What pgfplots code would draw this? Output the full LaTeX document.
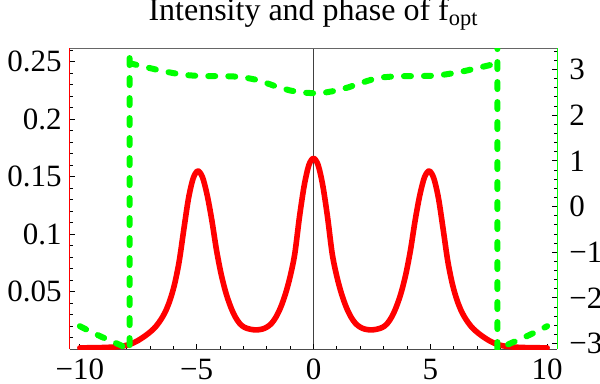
\documentclass[border=0pt]{standalone}
\usepackage{fontspec}
\setmainfont{Liberation Serif}
\usepackage{pgfplots}
\pgfplotsset{compat=1.18}
\definecolor{mgreen}{rgb}{0,1,0}
\begin{document}
\begin{tikzpicture}
\begin{axis}[name=A, scale only axis, width=243.5pt, height=150.5pt,
  xmin=-10.42, xmax=10.42, ymin=0, ymax=0.262,
  axis x line*=bottom, axis y line*=left,
  x axis line style={-, black!70, line width=0.5pt},
  y axis line style={-, red, line width=0.5pt},
  tick align=inside,
  major tick length=2.5pt, minor tick length=1.5pt,
  tick style={black, line width=0.4pt},
  xtick={-10,-5,0,5,10}, xticklabels={−10,−5,0,5,10},
  minor xtick={-9,-8,-7,-6,-4,-3,-2,-1,1,2,3,4,6,7,8,9},
  ytick={0.05,0.1,0.15,0.2,0.25}, yticklabels={0.05,0.1,0.15,0.2,0.25},
  minor ytick={0.01,0.02,0.03,0.04,0.06,0.07,0.08,0.09,0.11,0.12,0.13,0.14,0.16,0.17,0.18,0.19,0.21,0.22,0.23,0.24,0.26},
  ticklabel style={font=\fontsize{15.5}{18}\selectfont},
  xticklabel style={inner sep=0pt, yshift=-4.8pt, anchor=north},
  yticklabel style={inner sep=0pt, xshift=-4pt, anchor=east},
  extra x ticks={0}, extra x tick labels={},
  extra x tick style={grid=major, major grid style={black!75, line width=0.45pt}},
  title={Intensity and phase of f\textsubscript{opt}},
  title style={font=\fontsize{16}{19}\selectfont, anchor=base, at={(0.5,1)}, yshift=8pt},
]
\draw[black!60, line width=0.5pt] (rel axis cs:0,1) -- (rel axis cs:1,1);
\addplot[red, line width=2.8pt, smooth, line join=round, line cap=round] coordinates {
(-10.0,0.0010) (-9.5,0.0011) (-9.0,0.0013) (-8.5,0.0018) (-8.1,0.0028) (-7.8,0.0045)
(-7.5,0.0075) (-7.2,0.0115) (-6.95,0.0155) (-6.75,0.0195) (-6.55,0.0250) (-6.35,0.0320)
(-6.15,0.0420) (-5.95,0.0560) (-5.75,0.0760) (-5.55,0.1040) (-5.35,0.1310) (-5.15,0.1485)
(-4.95,0.1550) (-4.75,0.1495) (-4.55,0.1340) (-4.35,0.1120) (-4.15,0.0860) (-3.95,0.0650)
(-3.75,0.0490) (-3.55,0.0370) (-3.35,0.0280) (-3.15,0.0220) (-2.95,0.0188) (-2.7,0.0172)
(-2.45,0.0166) (-2.2,0.0173) (-2.0,0.0190) (-1.8,0.0222) (-1.6,0.0280) (-1.4,0.0365)
(-1.2,0.0480) (-1.0,0.0630) (-0.8,0.0830) (-0.6,0.1150) (-0.4,0.1420) (-0.2,0.1600)
(0.0,0.1660)
(0.2,0.1600) (0.4,0.1420) (0.6,0.1150) (0.8,0.0830) (1.0,0.0630) (1.2,0.0480)
(1.4,0.0365) (1.6,0.0280) (1.8,0.0222) (2.0,0.0190) (2.2,0.0173) (2.45,0.0166)
(2.7,0.0172) (2.95,0.0188) (3.15,0.0220) (3.35,0.0280) (3.55,0.0370) (3.75,0.0490)
(3.95,0.0650) (4.15,0.0860) (4.35,0.1120) (4.55,0.1340) (4.75,0.1495) (4.95,0.1550)
(5.15,0.1485) (5.35,0.1310) (5.55,0.1040) (5.75,0.0760) (5.95,0.0560) (6.15,0.0420)
(6.35,0.0320) (6.55,0.0250) (6.75,0.0195) (6.95,0.0155) (7.2,0.0115) (7.5,0.0075)
(7.8,0.0045) (8.1,0.0028) (8.5,0.0018) (9.0,0.0013) (9.5,0.0011) (10.0,0.0010)
};
\end{axis}
\begin{axis}[scale only axis, width=243.5pt, height=150.5pt,
  xmin=-10.42, xmax=10.42, ymin=-3.12, ymax=3.47,
  axis x line=none, axis y line*=right,
  y axis line style={-, mgreen, line width=0.5pt},
  tick align=inside,
  major tick length=2.5pt, minor tick length=1.5pt,
  tick style={black, line width=0.4pt},
  ytick={-3,-2,-1,0,1,2,3}, yticklabels={−3,−2,−1,0,1,2,3},
  minor ytick={-2.8,-2.6,-2.4,-2.2,-1.8,-1.6,-1.4,-1.2,-0.8,-0.6,-0.4,-0.2,0.2,0.4,0.6,0.8,1.2,1.4,1.6,1.8,2.2,2.4,2.6,2.8,3.2,3.4},
  ticklabel style={font=\fontsize{15.5}{18}\selectfont},
  yticklabel style={inner sep=0pt, xshift=6pt, anchor=west},
  unbounded coords=jump,
]
\addplot[mgreen, line width=3pt, line cap=round, line join=round, dash pattern=on 3.5pt off 6.5pt] coordinates {
(-10.0,-2.62) (-9.5,-2.75) (-9.0,-2.87) (-8.5,-2.98) (-8.2,-3.05) (-7.87,-3.14) (-7.87,3.6)
(-7.87,nan)
(-7.87,3.14) (-7.5,3.09) (-7.0,3.03) (-6.5,2.97) (-6.0,2.92) (-5.5,2.88) (-5.0,2.86)
(-4.5,2.855) (-4.0,2.855) (-3.5,2.85) (-3.0,2.83) (-2.5,2.78) (-2.0,2.70) (-1.5,2.61)
(-1.0,2.54) (-0.5,2.495) (0.0,2.48) (0.5,2.495) (1.0,2.54) (1.5,2.61) (2.0,2.70)
(2.5,2.78) (3.0,2.83) (3.5,2.85) (4.0,2.855) (4.5,2.855) (5.0,2.86) (5.5,2.88)
(6.0,2.92) (6.5,2.97) (7.0,3.03) (7.5,3.09) (7.87,3.14)
(7.87,nan)
(7.87,3.6) (7.87,-3.14) (8.2,-3.05) (8.5,-2.98) (9.0,-2.87) (9.5,-2.75) (10.0,-2.62)
};
\end{axis}
\pgfresetboundingbox
\path[use as bounding box] ([xshift=-35pt,yshift=-17pt]A.south west) rectangle ([xshift=21.5pt,yshift=24pt]A.north east);
\end{tikzpicture}
\end{document}
